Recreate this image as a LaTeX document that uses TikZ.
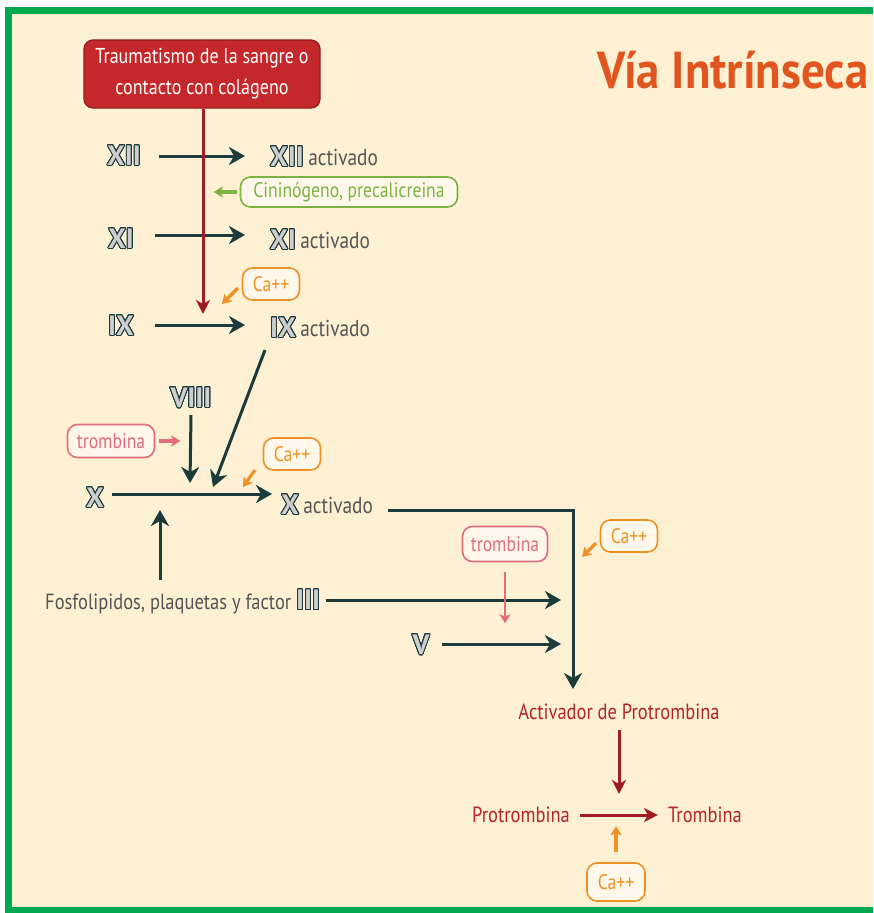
\documentclass[tikz,border=0pt]{standalone}
\usepackage{fontspec}
\setmainfont{PT Sans}[FakeStretch=0.84]
\newfontfamily\romfont{PT Sans}[FakeStretch=1.0]
\newfontfamily\titlefont{PT Sans}[FakeStretch=0.9]
\usepackage{contour}
\contourlength{0.9pt}
\contournumber{32}
\usetikzlibrary{arrows.meta}
\definecolor{bgc}{HTML}{FEF0D2}
\definecolor{framec}{HTML}{00A850}
\definecolor{dark}{HTML}{1C3B3D}
\definecolor{boxred}{HTML}{C4282A}
\definecolor{boxredd}{HTML}{951A1C}
\definecolor{arrred}{HTML}{A01C22}
\definecolor{titlec}{HTML}{E0561E}
\definecolor{actc}{HTML}{555555}
\definecolor{greenc}{HTML}{7AB342}
\definecolor{orangec}{HTML}{EE9124}
\definecolor{pinkc}{HTML}{E26C7C}
\definecolor{textred}{HTML}{B3242B}
\definecolor{romgray}{HTML}{CFCFCF}
\definecolor{pillfill}{HTML}{FFF8EA}
\newcommand{\romnum}[1]{{\romfont\bfseries\contour{dark}{\textcolor{romgray}{#1}}}}
\begin{document}
\begin{tikzpicture}[x=1pt,y=-1pt,
  txt/.style={inner sep=0pt, font=\fontsize{22}{24}\selectfont},
  rom/.style={inner sep=0pt, font=\fontsize{28}{30}\selectfont},
  act/.style={inner sep=0pt, anchor=west, font=\fontsize{23}{25}\selectfont, text=actc},
  pill/.style={draw=#1, line width=1.6pt, rounded corners=10pt, fill=pillfill, text=#1,
     inner sep=0pt, font=\fontsize{21}{23}\selectfont},
  capill/.style={pill=orangec, minimum width=57pt, minimum height=32pt},
  trpill/.style={pill=pinkc, minimum width=87pt, minimum height=33pt},
  darr/.style={draw=dark, line width=3pt, -{Stealth[length=16pt,width=18pt,inset=5pt]}},
  rarr/.style={draw=arrred, line width=3pt, -{Stealth[length=14pt,width=14pt,inset=4pt]}},
  smarr/.style={draw=#1, line width=3.2pt, -{Stealth[length=9pt,width=11pt,inset=2pt]}},
]
\useasboundingbox (0,0) rectangle (873,913);
\fill[white] (0,0) rectangle (873,913);
\fill[bgc] (8,10) rectangle (873,910);
\fill[framec] (5,7) rectangle (873,14);
\fill[framec] (5,7) rectangle (12,913);
\fill[framec] (5,907) rectangle (873,913);

% title
\node[inner sep=0pt, text=titlec, font=\titlefont\fontsize{52}{54}\selectfont\bfseries] (title) at (733,70) {Vía Intrínseca};

% trauma box
\node[draw=boxredd, line width=1.2pt, fill=boxred, rounded corners=9pt, minimum width=236pt, minimum height=68pt,
  text=white, align=center, font=\fontsize{21.5}{31}\selectfont, inner sep=0pt] (trauma) at (202,74)
  {Traumatismo de la sangre o\\contacto con colágeno};

% factors
\node[rom] (xii) at (124,156) {\romnum{XII}};
\node[rom, anchor=west] (xiia) at (270,157) {\romnum{XII}};
\node[act] (xiiat) at ([xshift=4pt]xiia.east) {activado};
\node[rom] (xi) at (121,239) {\romnum{XI}};
\node[rom, anchor=west] (xia) at (270,240) {\romnum{XI}};
\node[act] (xiat) at ([xshift=4pt]xia.east) {activado};
\node[rom] (ix) at (121,326) {\romnum{IX}};
\node[rom, anchor=west] (ixa) at (270,328) {\romnum{IX}};
\node[act] (ixat) at ([xshift=4pt]ixa.east) {activado};
\node[rom] (viii) at (191,398) {\romnum{VIII}};
\node[rom] (x) at (95,498) {\romnum{X}};
\node[rom, anchor=west] (xa) at (281,505) {\romnum{X}};
\node[act] (xaat) at ([xshift=4pt]xa.east) {activado};
\node[txt, text=actc, anchor=west] (fosfo) at (45,602)
  {Fosfolipidos, plaquetas y factor {\fontsize{28}{30}\selectfont\romnum{III}}};
\node[rom] (v) at (421,645) {\romnum{V}};

% pills
\node[pill=greenc, minimum width=217pt, minimum height=30pt] (cin) at (349,192) {Cininógeno, precalicreina};
\node[capill] (ca1) at (271,284) {Ca++};
\node[trpill] (tr1) at (111,441) {trombina};
\node[capill] (ca2) at (292,454) {Ca++};
\node[capill] (ca3) at (629,536) {Ca++};
\node[trpill, minimum width=85pt, minimum height=35pt] (tr2) at (505,544) {trombina};
\node[capill, minimum width=58pt, minimum height=38pt] (ca4) at (616,882) {Ca++};

% final texts
\node[txt, text=textred] (activ) at (619,712) {Activador de Protrombina};
\node[txt, text=textred] (protro) at (521,815) {Protrombina};
\node[txt, text=textred] (trombina) at (705,815) {Trombina};

% coordinates for arrow ends
\coordinate (redend) at (203,314);
\coordinate (jx1) at (190,483);
\coordinate (jx2) at (213,487);
\coordinate (jx3) at (160,510);
\coordinate (diagst) at (265,350);
\coordinate (elbow) at (573,510);
\coordinate (pend) at (573,689);
\coordinate (fend) at (561,600);
\coordinate (vend) at (561,644);
\coordinate (jp) at (619,794);
\coordinate (elst) at (388,510);

% main dark arrows
\draw[darr] ([xshift=18pt]xii.east) -- ([xshift=-25pt]xii.east -| xiia.west);
\draw[darr] ([xshift=21pt]xi.east |- 0,235) -- ([xshift=-25pt]xia.west |- 0,235);
\draw[darr] ([xshift=21pt]ix.east |- 0,325) -- ([xshift=-25pt]ixa.west |- 0,325);
\draw[darr] ([xshift=8pt]x.east |- 0,494) -- ([xshift=-9pt]xa.west |- 0,494);
\draw[darr] (viii.south |- 0,415) -- (jx1);
\draw[darr] (diagst) -- (jx2);
\draw[darr] (jx3 |- 0,580) -- (jx3);
\draw[darr] ([xshift=6pt]fosfo.east |- fend) -- (fend);
\draw[darr] ([xshift=12pt]v.east |- vend) -- (vend);
\draw[darr] (elst) -- (elbow) -- (pend);

% red arrows
\draw[rarr] (trauma.south -| redend) -- (redend);
\draw[rarr] ([yshift=-10pt]activ.south -| jp) -- (jp);
\draw[rarr] ([xshift=10pt]protro.east) -- ([xshift=-10pt]trombina.west);

% small cofactor arrows
\draw[smarr=greenc] ([xshift=-3pt]cin.west) -- ++(-23,0);
\draw[smarr=orangec] (238,288) -- (222,304);
\draw[smarr=orangec] (255,470) -- (243,487);
\draw[smarr=orangec] (596,543) -- (582,557);
\draw[smarr=orangec] ([yshift=10pt]ca4.north) -- ++(0,-26);
\draw[smarr=pinkc] ([xshift=4pt]tr1.east) -- ++(21,0);
\draw[smarr=pinkc, line width=2.6pt] ([yshift=-10pt]tr2.south) -- ++(0,51);
\end{tikzpicture}
\end{document}
